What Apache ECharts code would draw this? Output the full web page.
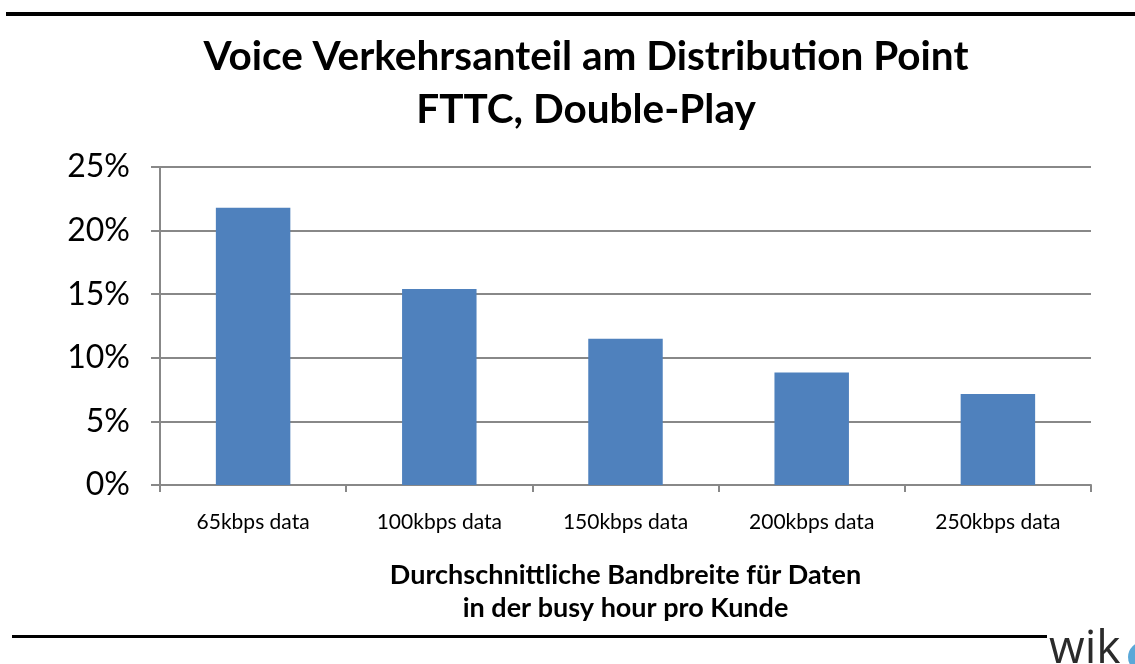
<!DOCTYPE html>
<html><head><meta charset="utf-8">
<script src="https://cdn.jsdelivr.net/npm/echarts@6/dist/echarts.min.js"></script>
<style>html,body{margin:0;padding:0;background:#fff}#c{width:1135px;height:664px}</style>
</head><body><div id="c"></div>
<script>
const categories = ['65kbps data','100kbps data','150kbps data','200kbps data','250kbps data'];
const voiceShare = [21.8, 15.4, 11.5, 8.85, 7.15];
const yTicks = [0, 5, 10, 15, 20, 25];

const chart = echarts.init(document.getElementById('c'));
const F = 'Lato, "Open Sans", sans-serif';
chart.setOption({
  animation: false,
  title: {
    text: 'Voice Verkehrsanteil am Distribution Point\nFTTC, Double-Play',
    left: 581, top: 25, textAlign: 'center',
    textStyle: {fontFamily: F, fontSize: 40.5, fontWeight: 'bold', color: '#000', lineHeight: 53}
  },
  grid: {left: 160, right: 44, top: 167, bottom: 179},
  xAxis: {
    type: 'category', data: categories,
    axisLine: {lineStyle: {color: '#888', width: 2}},
    axisTick: {show: true, length: 7, lineStyle: {color: '#888', width: 2}},
    axisLabel: {fontFamily: F, fontSize: 21, color: '#000', margin: 27},
    name: 'Durchschnittliche Bandbreite für Daten\nin der busy hour pro Kunde',
    nameLocation: 'middle', nameGap: 74,
    nameTextStyle: {fontFamily: F, fontSize: 27, fontWeight: 'bold', color: '#000', lineHeight: 33}
  },
  yAxis: {
    type: 'value', min: yTicks[0], max: yTicks[yTicks.length-1], interval: 5,
    axisLine: {show: true, lineStyle: {color: '#888', width: 2}},
    axisTick: {show: true, length: 9, lineStyle: {color: '#888', width: 2}},
    splitLine: {lineStyle: {color: '#888', width: 2}},
    axisLabel: {fontFamily: F, fontSize: 32, color: '#000', margin: 30, formatter: v => v + '%'}
  },
  series: [{
    type: 'bar', data: voiceShare, barWidth: '40%',
    itemStyle: {color: '#4F81BD'}
  }],
  graphic: [
    {type: 'rect', shape: {x: 6, y: 12, width: 1129, height: 4}, style: {fill: '#000'}},
    {type: 'rect', shape: {x: 12, y: 635, width: 1035, height: 3}, style: {fill: '#000'}},
    {type: 'text', left: 1049, top: 627, style: {text: 'wik', fontFamily: '"Open Sans", sans-serif', fontSize: 46, fill: '#2b2b2b'}},
    {type: 'circle', shape: {cx: 1143, cy: 657, r: 15}, style: {fill: '#5aa8d8'}}
  ]
});
</script></body></html>
